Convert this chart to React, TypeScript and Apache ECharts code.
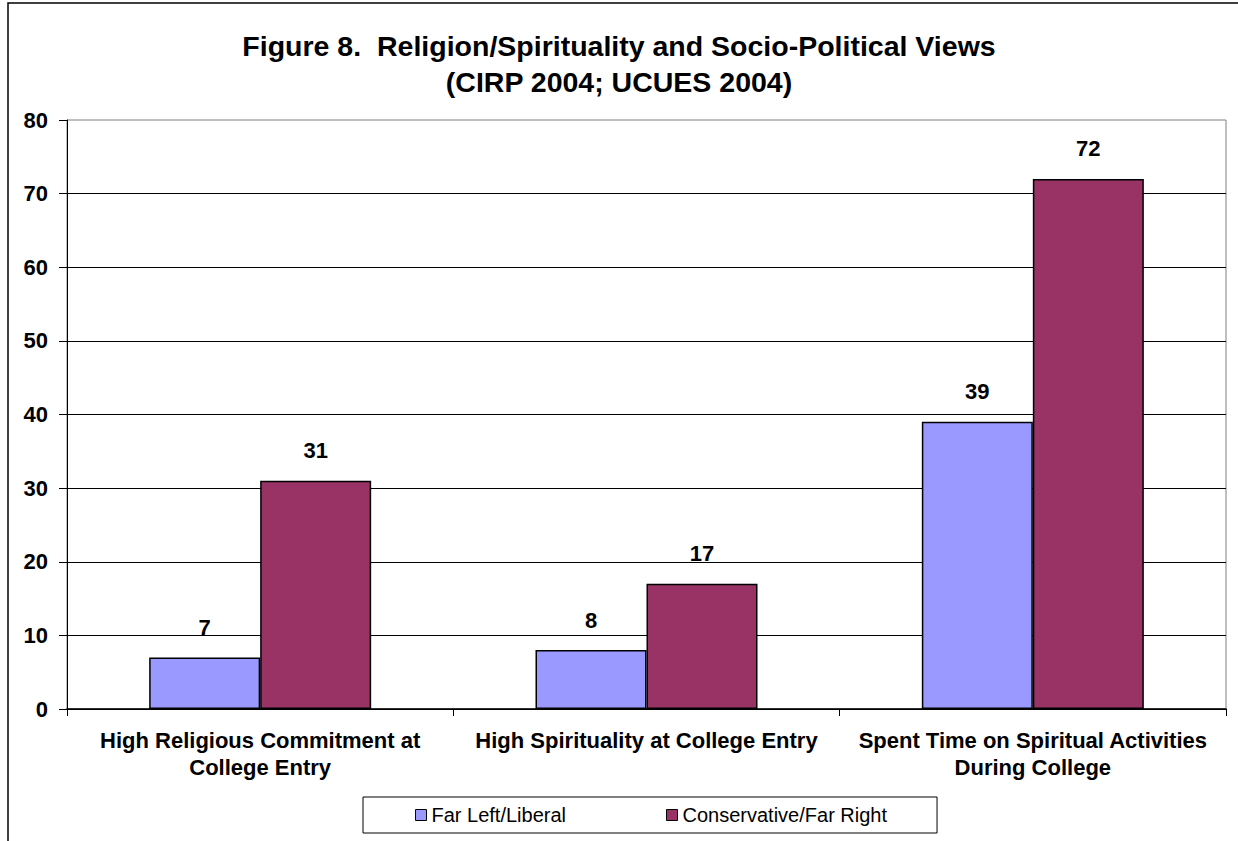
import React, { useEffect, useRef } from "react";
import * as echarts from "echarts";

const titleLines = [
  "Figure 8.  Religion/Spirituality and Socio-Political Views",
  "(CIRP 2004; UCUES 2004)",
];
const categories = [
  "High Religious Commitment at\nCollege Entry",
  "High Spirituality at College Entry",
  "Spent Time on Spiritual Activities\nDuring College",
];
const seriesNames = ["Far Left/Liberal", "Conservative/Far Right"];
const farLeftValues = [7, 8, 39];
const conservativeValues = [31, 17, 72];
const yMin = 0;
const yMax = 80;
const yInterval = 10;
const seriesColors = ["#9999FF", "#993366"];

const FONT = "'Liberation Sans', Arial, sans-serif";

export default function App() {
  const ref = useRef<HTMLDivElement>(null);

  useEffect(() => {
    document.body.style.margin = "0";
    if (!ref.current) return;
    const chart = echarts.init(ref.current, null, { renderer: "svg" });
    const labelStyle = {
      show: true,
      position: "top" as const,
      distance: 19,
      color: "#000",
      fontFamily: FONT,
      fontWeight: "bold" as const,
      fontSize: 22,
    };
    const barSeries = [farLeftValues, conservativeValues].map((vals, i) => ({
      name: seriesNames[i],
      type: "bar" as const,
      data: vals,
      barWidth: 111,
      barGap: "0%",
      itemStyle: {
        color: seriesColors[i],
        borderColor: "#000",
        borderWidth: 1.5,
      },
      label: labelStyle,
    }));
    chart.setOption({
      animation: false,
      backgroundColor: "#fff",
      title: {
        text: titleLines.join("\n"),
        left: "center",
        top: 28,
        padding: 0,
        textStyle: {
          fontFamily: FONT,
          fontWeight: "bold",
          fontSize: 28.5,
          lineHeight: 36,
          color: "#000",
        },
      },
      grid: {
        left: 67,
        right: 12,
        top: 120,
        bottom: 132,
        show: true,
        borderColor: "#808080",
        borderWidth: 1,
        backgroundColor: "transparent",
        outerBoundsMode: "none",
      },
      legend: {
        data: seriesNames,
        left: 363,
        top: 797,
        orient: "horizontal",
        padding: [8, 50, 8, 52],
        itemGap: 100,
        itemWidth: 11,
        itemHeight: 11,
        icon: "rect",
        borderColor: "#000",
        borderWidth: 1,
        backgroundColor: "#fff",
        itemStyle: { borderColor: "#000", borderWidth: 1 },
        textStyle: {
          fontFamily: FONT,
          fontSize: 20,
          color: "#000",
        },
      },
      xAxis: {
        type: "category",
        data: categories,
        axisLine: { show: true, lineStyle: { color: "#000", width: 1.5 } },
        axisTick: {
          show: true,
          length: 7,
          alignWithLabel: false,
          lineStyle: { color: "#000" },
        },
        axisLabel: {
          interval: 0,
          margin: 18,
          color: "#000",
          fontFamily: FONT,
          fontWeight: "bold",
          fontSize: 22,
          lineHeight: 27,
          align: "center",
        },
        splitLine: { show: false },
      },
      yAxis: {
        type: "value",
        min: yMin,
        max: yMax,
        interval: yInterval,
        axisLine: { show: true, lineStyle: { color: "#000", width: 1 } },
        axisTick: { show: true, length: 8, lineStyle: { color: "#000" } },
        axisLabel: {
          margin: 19,
          color: "#000",
          fontFamily: FONT,
          fontWeight: "bold",
          fontSize: 22,
        },
        splitLine: {
          show: true,
          showMaxLine: false,
          lineStyle: { color: "#000", width: 1 },
        },
      },
      graphic: [
        {
          type: "rect",
          silent: true,
          z: 100,
          shape: { x: 8, y: 3, width: 1400, height: 1000 },
          style: { fill: "none", stroke: "#000", lineWidth: 1.5 },
        },
      ],
      series: barSeries,
    });
    return () => chart.dispose();
  }, []);

  return <div ref={ref} style={{ width: 1238, height: 841 }} />;
}
